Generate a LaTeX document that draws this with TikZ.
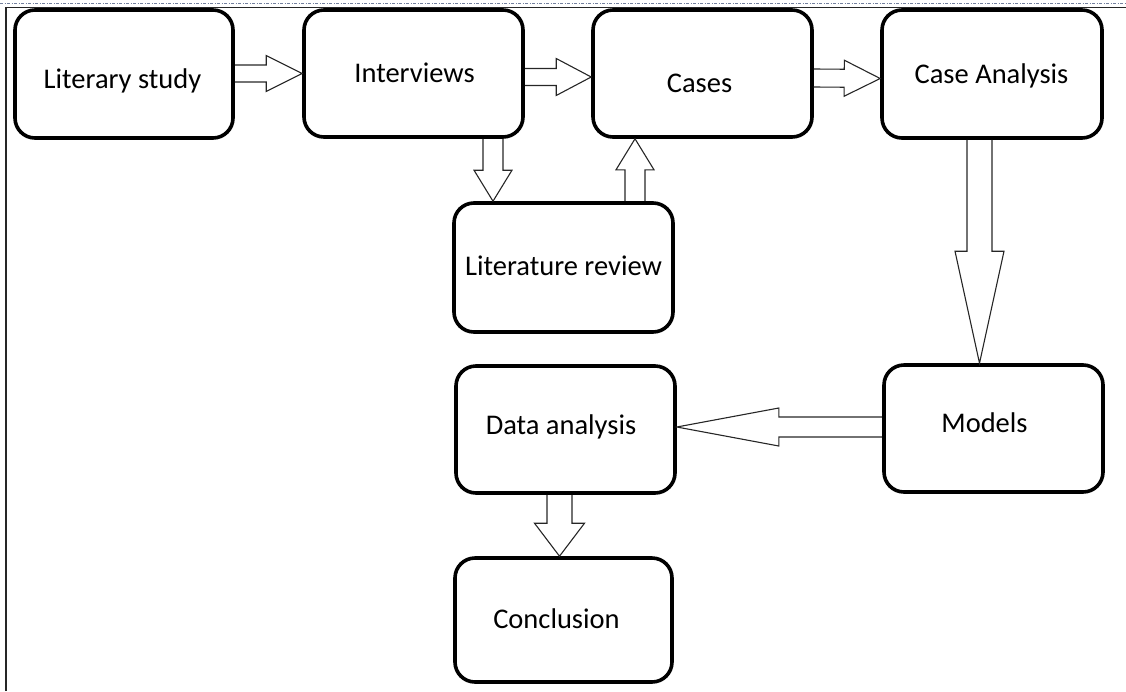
\documentclass[tikz,border=0pt]{standalone}
\usepackage{fontspec}
\setmainfont{Carlito}
\usetikzlibrary{calc}
\tikzset{
  box/.style={draw, line width=3.6pt, rounded corners=20pt, fill=none, inner sep=0pt},
  txt/.style={anchor=base, inner sep=0pt, font=\fontsize{28.5}{34}\selectfont},
  blockarrow/.style={draw, line width=1.1pt, line join=miter, black!85},
}
\newcommand\barrow[5]{%
  \path ($(#2)!#5!(#1)$) coordinate (hb);
  \draw[blockarrow] ($(#1)!#3!90:(#2)$) -- ($(hb)!#3!90:(#2)$) -- ($(hb)!#4!90:(#2)$) -- (#2)
    -- ($(hb)!#4!-90:(#2)$) -- ($(hb)!#3!-90:(#2)$) -- ($(#1)!#3!-90:(#2)$);
}
\begin{document}
\begin{tikzpicture}[x=1pt,y=-1pt]
\useasboundingbox (0,0) rectangle (1126,691);
% page frame
\draw[color={rgb,1:red,0.45;green,0.5;blue,0.62}, line width=0.9pt, dash pattern=on 3pt off 1.5pt on 1pt off 1.5pt] (0,3.5) -- (1126,3.5);
\draw[line width=1.1pt, black!85] (6,691) -- (6,7.5) -- (1126,7.5);

% boxes
\node[box, minimum width=218pt, minimum height=128pt] (lit) at (124,74) {};
\node[box, minimum width=219pt, minimum height=127pt] (int) at (413.5,73.5) {};
\node[box, minimum width=219pt, minimum height=127pt] (cases) at (702.5,73.5) {};
\node[box, minimum width=220pt, minimum height=128pt] (ca) at (992,74) {};
\node[box, minimum width=219pt, minimum height=129pt] (lr) at (563.5,267.5) {};
\node[box, minimum width=219pt, minimum height=127pt] (models) at (993.5,428.5) {};
\node[box, minimum width=219pt, minimum height=127pt] (da) at (565.5,429.5) {};
\node[box, minimum width=217pt, minimum height=124pt] (con) at (563.5,620) {};

% texts
\node[txt] (litT) at (122.5,88) {Literary study};
\node[txt] (intT) at (414.5,82) {Interviews};
\node[txt] (casesT) at (699.5,92) {Cases};
\node[txt] (caT) at (991.5,83) {Case Analysis};
\node[txt] (lrT) at (563.5,275) {Literature review};
\node[txt] (modelsT) at (984.5,432) {Models};
\node[txt] (daT) at (561,434) {Data analysis};
\node[txt] (conT) at (556.5,628) {Conclusion};

% connector end points
\coordinate (a1s) at (lit.east |- int.west);
\coordinate (a1t) at (int.west);
\coordinate (a2s) at ($(int.east)+(0,3.5)$);
\coordinate (a2t) at ($(cases.west)+(0,3.5)$);
\coordinate (a3s) at ($(cases.east)+(0,4.5)$);
\coordinate (a3t) at ($(ca.west)+(0,4.5)$);
\coordinate (a4s) at ($(int.south)+(79.5,0)$);
\coordinate (a4t) at ($(lr.north)+(-70.5,0)$);
\coordinate (a5s) at ($(lr.north)+(71.5,0)$);
\coordinate (a5t) at ($(cases.south)+(-67.5,0)$);
\coordinate (a6s) at ($(ca.south)+(-12.5,0)$);
\coordinate (a6t) at ($(models.north)+(-14,0)$);
\coordinate (a7s) at ($(models.west)+(0,-1.5)$);
\coordinate (a7t) at ($(da.east)+(0,-2.5)$);
\coordinate (a8s) at ($(da.south)+(-6,0)$);
\coordinate (a8t) at ($(con.north)+(-4,0)$);

% block arrows
\barrow{a1s}{a1t}{8.5pt}{18pt}{36pt}
\barrow{a2s}{a2t}{8.5pt}{18.5pt}{35pt}
\barrow{a3s}{a3t}{9pt}{18pt}{36pt}
\barrow{a4s}{a4t}{10pt}{19pt}{31pt}
\barrow{a5s}{a5t}{10pt}{19pt}{31pt}
\barrow{a6s}{a6t}{12.5pt}{24.5pt}{112pt}
\barrow{a7s}{a7t}{10pt}{19pt}{102pt}
\barrow{a8s}{a8t}{12.5pt}{25pt}{33pt}
\end{tikzpicture}
\end{document}
